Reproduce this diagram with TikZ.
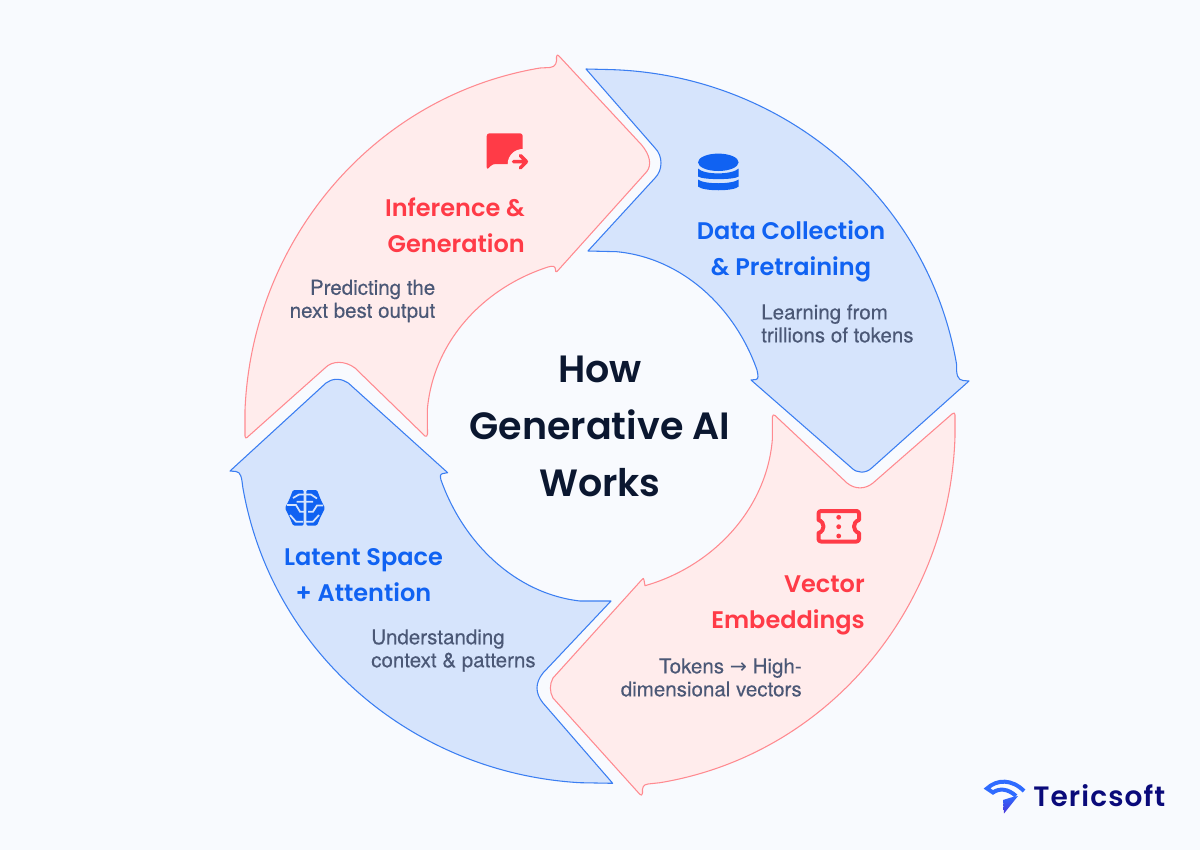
\documentclass[tikz,border=0pt]{standalone}
\usepackage{fontspec}
\setmainfont{Poppins}
\newfontfamily\headf[BoldFont={Poppins SemiBold}]{Poppins}
\newfontfamily\logof[LetterSpace=4]{Poppins SemiBold}
\newfontfamily\bodyf[FakeBold=0.3]{TeX Gyre Heros}
\newfontfamily\arrowf{DejaVu Sans}
\definecolor{bgc}{HTML}{F8FAFE}
\definecolor{redfill}{HTML}{FFECEC}
\definecolor{redline}{HTML}{FF8A90}
\definecolor{redtext}{HTML}{FF3B47}
\definecolor{bluefill}{HTML}{D6E4FC}
\definecolor{blueline}{HTML}{3B7EF2}
\definecolor{bluetext}{HTML}{1062F2}
\definecolor{navy}{HTML}{0B1730}
\definecolor{slate}{HTML}{4B5876}
\definecolor{logonavy}{HTML}{0A0A7A}
\definecolor{logoblue}{HTML}{2F6BFF}
\definecolor{logoviolet}{HTML}{4A35D8}
\tikzset{
 redarrow/.style={draw=redline,fill=redfill,line width=.8pt,line join=round},
 bluearrow/.style={draw=blueline,fill=bluefill,line width=.8pt,line join=round},
 headtext/.style={inner sep=0pt,font=\headf\bfseries\fontsize{18}{27}\selectfont},
 bodytext/.style={inner sep=0pt,font=\bodyf\fontsize{15.4}{17.25}\selectfont,text=slate},
 titletext/.style={inner sep=0pt,font=\headf\bfseries\fontsize{28.5}{43}\selectfont,text=navy,align=center},
}
\begin{document}
\begin{tikzpicture}[x=.75pt,y=-.75pt]
\useasboundingbox (0,0) rectangle (1200,850);
\fill[bgc] (0,0) rectangle (1200,850);
% red: inference
\draw[redarrow] (245,410) .. controls (252,241) and (373,96) .. (540,68) -- (550,67.5) .. controls (556,67) and (557,62) .. (556.5,57) .. controls (556.5,55) and (557.5,54.5) .. (558.5,55.5) -- (641.7,145) .. controls (650,155) and (652,165) .. (646.7,171.7) -- (557,271.5) .. controls (555.5,272.5) and (555.5,271) .. (555.5,270) .. controls (555.5,266) and (553,265.5) .. (548,267) .. controls (483,288) and (433,342) .. (427.3,410) -- (427.5,434) .. controls (427.5,436.5) and (426,436.5) .. (425,436) -- (355,368) .. controls (345,360.5) and (332,360.5) .. (325,368) -- (247,437.5) .. controls (246,438.5) and (245,438) .. (245,436) -- cycle;
% blue: data
\draw[bluearrow] (586,69) -- (606.7,69.5) .. controls (779.3,72.8) and (928,195) .. (956.7,365) .. controls (956,375) and (958,380) .. (963,380.5) -- (969,381) -- (871.7,468) .. controls (866,473.5) and (857,473.5) .. (851.7,468) -- (751,380) -- (756,379.5) .. controls (759,379) and (758,375) .. (757,370) .. controls (735,307.6) and (682.4,258) .. (616.7,251.7) -- (588,251) -- (655,178) .. controls (663,170) and (663,156) .. (655,148) -- cycle;
% blue: latent
\draw[bluearrow] (336.7,379.3) .. controls (332,379.3) and (329,381) .. (326,383) -- (230,471) -- (236,471.5) .. controls (241,472) and (241.7,478) .. (242.7,486.7) .. controls (271,652) and (412,773) .. (580,782.7) -- (612.7,783.3) -- (543,703) .. controls (535,693) and (535,683) .. (543,673) -- (611,601) -- (580,601) .. controls (514.5,593.5) and (463,542) .. (441,480) .. controls (440,476) and (440,474) .. (443,473.5) -- (447.7,472.7) -- (348.3,383) .. controls (345,381) and (342,379.3) .. (336.7,379.3) -- cycle;
% red: vector
\draw[redarrow] (955,436.7) .. controls (949.4,607.7) and (828.6,754.7) .. (660,782.7) -- (648,784) .. controls (643,784.5) and (642,788) .. (642.5,793) .. controls (642.5,795.5) and (641,795.5) .. (640,794.5) -- (553,698) .. controls (549.5,692) and (549.5,684) .. (553,678) -- (642,579.5) .. controls (643,578) and (643.7,578) .. (644,580) -- (645,585.7) .. controls (712,566.7) and (766.3,510) .. (772.3,440) -- (772.3,417) .. controls (772.3,414.5) and (774,414.5) .. (775,415.5) -- (847,483) .. controls (855,489.5) and (865,489.5) .. (873,483) -- (952,414) .. controls (954,412) and (955,413) .. (955,415) -- cycle;
% chat icon
\fill[redtext,rounded corners=2pt] (486.7,133.3) -- (522.7,133.3) -- (522.7,164) -- (492.7,164) -- (486.7,170) -- cycle;
\fill[redfill] (522.7,164) circle (15);
\draw[redtext,line width=2.6pt,line cap=round,line join=round] (513.5,161.7) -- (526.5,161.7) (520.3,155.5) -- (526.5,161.7) -- (520.3,167.9);
% database icon
\fill[bluetext] (718.3,162.3) ellipse (20.3 and 8.7);
\fill[bluetext] (698,168.5) .. controls (704,175) and (732,175) .. (738.7,168.5) -- (738.7,176.5) .. controls (734,180) and (703,180) .. (698,176.5) -- cycle;
\fill[bluetext] (698,179.5) .. controls (704,184.5) and (732,184.5) .. (738.7,179.5) -- (738.7,186.5) .. controls (734,191.5) and (703,191.5) .. (698,186.5) -- cycle;
% brain icon
\fill[bluetext,rounded corners=1pt] (303.7,490) -- (293,490) -- (289.5,499) -- (285,508) -- (289.5,517) -- (293,525.5) -- (303.7,525.5) -- cycle;
\fill[bluetext,rounded corners=1pt] (306.3,490) -- (317,490) -- (320.5,499) -- (325,508) -- (320.5,517) -- (317,525.5) -- (306.3,525.5) -- cycle;
\draw[bluefill,line width=1.3pt] (293,498) -- (299,494.5) -- (304,494.5) (296.7,501.7) -- (313,501.7) (287,505) -- (296,505) -- (300,511.7) -- (304,511.7) (290,515) -- (296,521.7) -- (303,521.7) (306,494.5) -- (311,494.5) -- (317,498.5) (308,511.7) -- (313,511.7) -- (317,505.5) -- (323,505.5) (306,521.7) -- (313,521.7) -- (319,515);
% ticket icon
\draw[redtext,line width=3pt,line join=round] (821,511) -- (856.5,511) .. controls (858,511) and (859,512) .. (859,513.5) -- (859,520) .. controls (855.5,521) and (854,524) .. (854,526.5) .. controls (854,529) and (855.5,532) .. (859,533) -- (859,539) .. controls (859,540.5) and (858,541.5) .. (856.5,541.5) -- (821,541.5) .. controls (819.5,541.5) and (818.5,540.5) .. (818.5,539) -- (818.5,533) .. controls (822,532) and (823.5,529) .. (823.5,526.5) .. controls (823.5,524) and (822,521) .. (818.5,520) -- (818.5,513.5) .. controls (818.5,512) and (819.5,511) .. (821,511) -- cycle;
\fill[redtext] (838.7,517.3) circle (2.4) (838.7,526.7) circle (2.4) (838.7,536) circle (2.4);
% logo icon
\draw[logoblue,line width=3pt,line join=miter] (1024,791) .. controls (1012,779) and (997,779) .. (987,788.5) -- (993,792.5) .. controls (999,788) and (1008,788.5) .. (1016,796);
\shade[top color=logoblue,bottom color=logoviolet] (1018,796) -- (1004,813.5) -- (1003,800) -- (1011,797.5) -- cycle;
% text
\node[headtext,text=redtext,align=right,anchor=east] (inf) at (525,225) {Inference \&\\Generation};
\node[bodytext,align=right,anchor=east] (infb) at (435.5,301) {Predicting the\\next best output};
\node[headtext,text=bluetext,align=center] (dat) at (791,251) {Data Collection\\\& Pretraining};
\node[bodytext,align=left,anchor=west] (datb) at (761,323.5) {Learning from\\trillions of tokens};
\node[headtext,text=redtext,align=right,anchor=east] (vec) at (865,605) {Vector\\Embeddings};
\node[bodytext,align=right,anchor=east] (vecb) at (802,677.5) {Tokens {\arrowf →} High-\\dimensional vectors};
\node[headtext,text=bluetext,align=center] (lat) at (363.5,575) {Latent Space\\+ Attention};
\node[bodytext,align=left,anchor=west] (latb) at (371,650.5) {Understanding\\context \& patterns};
\node[titletext] (title) at (600,426.5) {How\\Generative AI\\Works};
\node[inner sep=0pt,anchor=base west,font=\logof\fontsize{21}{24}\selectfont,text=logonavy] (logo) at (1033,806) {Tericsoft};
\end{tikzpicture}
\end{document}
